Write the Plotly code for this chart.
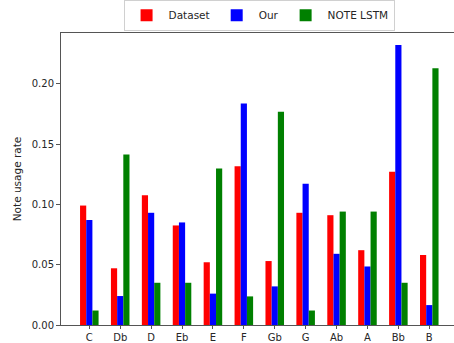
import plotly.graph_objects as go

notes = ["C", "Db", "D", "Eb", "E", "F", "Gb", "G", "Ab", "A", "Bb", "B"]
dataset = [0.099, 0.047, 0.1075, 0.0825, 0.052, 0.1315, 0.053, 0.093, 0.091, 0.062, 0.127, 0.058]
our = [0.087, 0.024, 0.093, 0.085, 0.026, 0.1835, 0.032, 0.117, 0.059, 0.0485, 0.232, 0.0165]
note_lstm = [0.012, 0.1413, 0.035, 0.035, 0.1297, 0.0237, 0.1768, 0.012, 0.094, 0.094, 0.035, 0.2127]

series = [("Dataset", dataset, "#ff0000"), ("Our", our, "#0000ff"), ("NOTE LSTM", note_lstm, "#008000")]

fig = go.Figure()
for name, vals, col in series:
    fig.add_trace(go.Bar(x=list(range(len(notes))), y=vals, name=name,
                         marker=dict(color=col, line=dict(width=0))))

fig.update_layout(
    width=454, height=343,
    margin=dict(l=61, r=0, t=33, b=18, autoexpand=False),
    barmode="group", bargap=0.4, bargroupgap=0,
    plot_bgcolor="white", paper_bgcolor="white",
    font=dict(family="DejaVu Sans", size=10, color="#262626"),
    legend=dict(orientation="h", x=0.504, xanchor="center", y=1.008, yanchor="bottom",
                bordercolor="#d0d0d0", borderwidth=1, bgcolor="white",
                font=dict(size=10.5), itemwidth=34, entrywidth=0),
    xaxis=dict(tickmode="array", tickvals=list(range(len(notes))), ticktext=notes,
               range=[-0.916, 11.8], showline=True, linecolor="#555", linewidth=1,
               mirror=True, ticks="outside", ticklen=3, tickcolor="#555", showgrid=False,
               zeroline=False),
    yaxis=dict(range=[0, 0.242], tickvals=[0, 0.05, 0.10, 0.15, 0.20], tickformat=".2f",
               showline=True, linecolor="#555", linewidth=1, ticks="outside", ticklen=4,
               tickcolor="#555", showgrid=False, zeroline=False,
               title=dict(text="Note usage rate", standoff=8, font=dict(size=10.5))),
)

fig.write_html("out.html", config={"displayModeBar": False},
               post_script="document.body.style.margin='0';document.body.style.overflow='hidden';")
